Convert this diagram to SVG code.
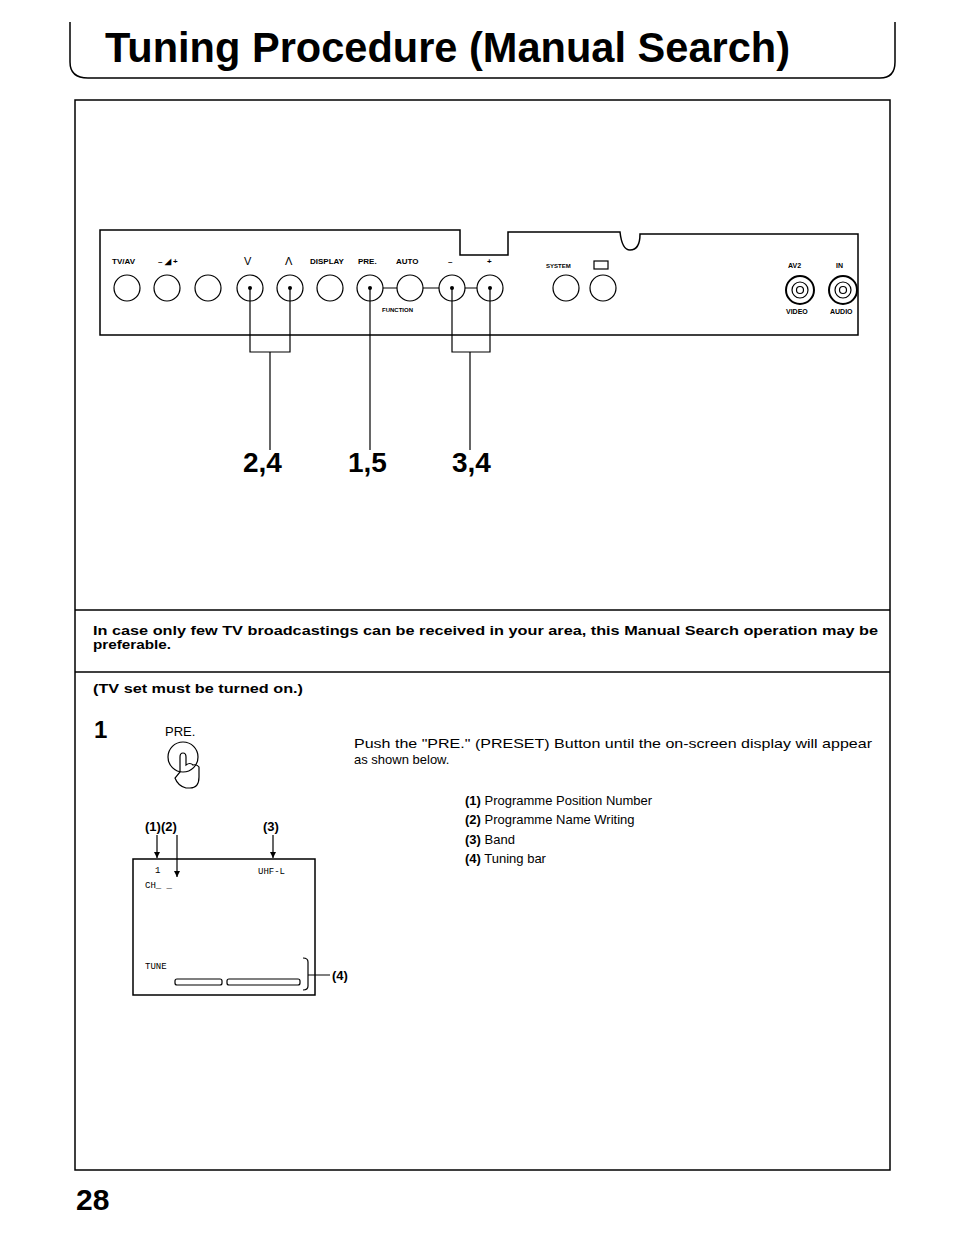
<svg xmlns="http://www.w3.org/2000/svg" width="954" height="1246" viewBox="0 0 954 1246">
<style>
.s{fill:none;stroke:#000;stroke-width:1.5}
.t{stroke:#000;stroke-width:1.2;fill:none}
text{font-family:"Liberation Sans",Arial,sans-serif;fill:#000}
.lb{font-size:8px;font-weight:bold}
.m{font-family:"Liberation Mono",monospace;font-size:9px}
</style>
<defs><marker id="a" markerWidth="6" markerHeight="6" refX="6" refY="3" orient="auto" markerUnits="userSpaceOnUse"><path d="M0,0 L6,3 L0,6 Z"/></marker></defs>
<rect width="954" height="1246" fill="#fff"/>
<g id="title">
<path class="s" d="M70,22 V62 Q70,78 88,78 H880 Q895,78 895,62 V22"/>
<text x="105" y="62" font-size="42" font-weight="bold" textLength="685" lengthAdjust="spacingAndGlyphs">Tuning Procedure (Manual Search)</text>
</g>
<g id="frame">
<path class="s" d="M75,100 H890 V1170 H75 Z"/>
<line class="s" x1="75" y1="610" x2="890" y2="610"/>
<line class="s" x1="75" y1="672" x2="890" y2="672"/>
</g>
<g id="panel">
<path class="s" d="M100,230 H460 V255 H508 V232 H620 Q622,250 630,250 Q640,250 640,234 H858 V335 H100 Z"/>
<g class="lb">
<text x="112" y="264">TV/AV</text><text x="158" y="264">– ◢ +</text>
<text x="244" y="265" font-size="11" font-weight="normal">V</text><text x="285" y="265" font-size="11" font-weight="normal">Λ</text>
<text x="310" y="264">DISPLAY</text><text x="358" y="264">PRE.</text><text x="396" y="264">AUTO</text>
<text x="448" y="264">–</text><text x="487" y="264">+</text>
<text x="546" y="268" font-size="6">SYSTEM</text><rect x="594" y="261" width="14" height="8" class="t"/>
<text x="382" y="312" font-size="6">FUNCTION</text>
<text x="788" y="268" font-size="7">AV2</text><text x="836" y="268" font-size="7">IN</text>
<text x="786" y="314" font-size="7">VIDEO</text><text x="830" y="314" font-size="7">AUDIO</text>
</g>
<path class="t" d="M383,288 H397 M423,288 H439 M465,288 H477"/>
<g class="t">
<circle cx="127" cy="288" r="13"/><circle cx="167" cy="288" r="13"/><circle cx="208" cy="288" r="13"/>
<circle cx="250" cy="288" r="13"/><circle cx="290" cy="288" r="13"/><circle cx="330" cy="288" r="13"/>
<circle cx="370" cy="288" r="13"/><circle cx="410" cy="288" r="13"/><circle cx="452" cy="288" r="13"/>
<circle cx="490" cy="288" r="13"/><circle cx="566" cy="288" r="13"/><circle cx="603" cy="288" r="13"/>
<circle cx="800" cy="290" r="14" stroke-width="2"/><circle cx="800" cy="290" r="8"/><circle cx="800" cy="290" r="3.5"/>
<circle cx="843" cy="290" r="14" stroke-width="2"/><circle cx="843" cy="290" r="8"/><circle cx="843" cy="290" r="3.5"/>
</g>
<g><circle cx="250" cy="288" r="2"/><circle cx="290" cy="288" r="2"/><circle cx="370" cy="288" r="2"/><circle cx="452" cy="288" r="2"/><circle cx="490" cy="288" r="2"/></g>
</g>
<g id="connectors" class="t">
<path d="M250,288 V352 H290 V288 M270,352 V450"/>
<path d="M370,288 V450"/>
<path d="M452,288 V352 H490 V288 M470,352 V450"/>
<path d="M157,835 V858" marker-end="url(#a)"/>
<path d="M177,835 V877" marker-end="url(#a)"/>
<path d="M273,835 V858" marker-end="url(#a)"/>
<path d="M303,958 Q308,958 308,962 V986 Q308,990 303,990 M308,975 H330"/>
</g>
<g id="labels">
<text x="243" y="472" font-weight="bold" font-size="28">2,4</text>
<text x="348" y="472" font-weight="bold" font-size="28">1,5</text>
<text x="452" y="472" font-weight="bold" font-size="28">3,4</text>
</g>
<g id="note">
<text x="93" y="635" font-size="13" font-weight="bold" textLength="785" lengthAdjust="spacingAndGlyphs">In case only few TV broadcastings can be received in your area, this Manual Search operation may be</text>
<text x="93" y="649" font-size="13" font-weight="bold" textLength="78" lengthAdjust="spacingAndGlyphs">preferable.</text>
</g>
<g id="step1">
<text x="93" y="693" font-size="12" font-weight="bold" textLength="210" lengthAdjust="spacingAndGlyphs">(TV set must be turned on.)</text>
<text x="94" y="738" font-size="24" font-weight="bold">1</text>
<text x="165" y="736" font-size="13">PRE.</text>
<circle class="t" cx="183" cy="757" r="15"/>
<path class="t" fill="#fff" d="M180,772 V757 Q180,753 183,753 Q186,753 186,757 V765 Q190,762 193,765 Q197,764 199,767 V777 Q199,788 190,788 H186 Q178,786 175,778 Z"/>
<text x="354" y="748" font-size="13" textLength="518" lengthAdjust="spacingAndGlyphs">Push the "PRE." (PRESET) Button until the on-screen display will appear</text>
<text x="354" y="764" font-size="13">as shown below.</text>
<g font-size="13">
<text x="465" y="805"><tspan font-weight="bold">(1)</tspan> Programme Position Number</text>
<text x="465" y="824"><tspan font-weight="bold">(2)</tspan> Programme Name Writing</text>
<text x="465" y="844"><tspan font-weight="bold">(3)</tspan> Band</text>
<text x="465" y="863"><tspan font-weight="bold">(4)</tspan> Tuning bar</text>
</g>
</g>
<g id="screen">
<rect class="s" x="133" y="859" width="182" height="136"/>
<text x="145" y="831" font-size="13" font-weight="bold">(1)(2)</text>
<text x="263" y="831" font-size="13" font-weight="bold">(3)</text>
<text x="155" y="873" class="m" font-size="7">1</text>
<text x="145" y="888" class="m">CH_ _</text>
<text x="258" y="874" class="m">UHF-L</text>
<text x="145" y="969" class="m">TUNE</text>
<rect class="t" x="175" y="979" width="47" height="6" rx="2"/>
<rect class="t" x="227" y="979" width="73" height="6" rx="2"/>
<text x="332" y="980" font-size="13" font-weight="bold">(4)</text>
</g>
<text x="76" y="1210" font-size="30" font-weight="bold">28</text>
</svg>
